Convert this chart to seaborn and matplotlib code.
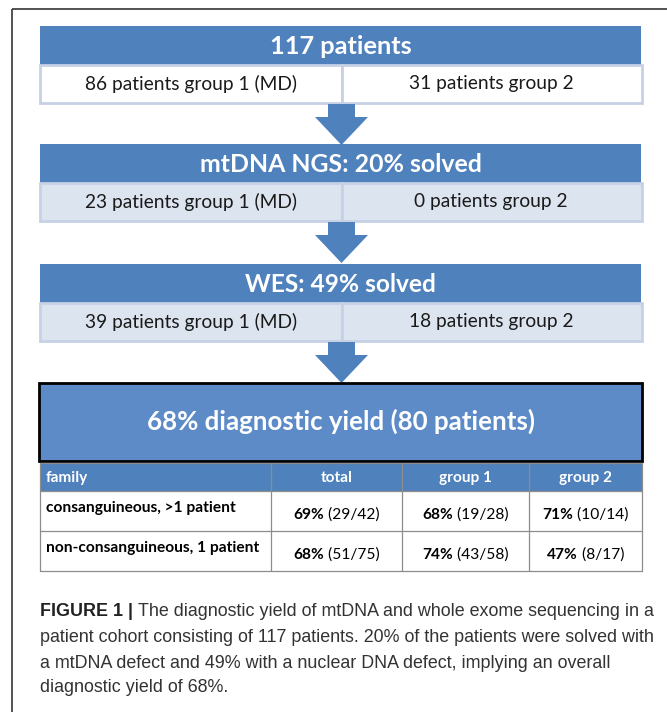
import numpy as np
import pandas as pd
import matplotlib
matplotlib.use("Agg")
import matplotlib.pyplot as plt
import seaborn as sns
from matplotlib.patches import Rectangle, Polygon

# flow steps
steps = ["117 patients", "mtDNA NGS: 20% solved", "WES: 49% solved"]
group1_counts = [86, 23, 39]
group2_counts = [31, 0, 18]
summary = "68% diagnostic yield (80 patients)"

# table
table_cols = ["family", "total", "group 1", "group 2"]
families = ["consanguineous, >1 patient", "non-consanguineous, 1 patient"]
solved = [[29, 19, 10], [51, 43, 8]]
totals = [[42, 28, 14], [75, 58, 17]]

caption_lines = [
    "The diagnostic yield of mtDNA and whole exome sequencing in a",
    "patient cohort consisting of 117 patients. 20% of the patients were solved with",
    "a mtDNA defect and 49% with a nuclear DNA defect, implying an overall",
    "diagnostic yield of 68%.",
]

BLUE = "#4F81BD"
BIG = "#5C8BC7"
PALE = "#DCE4F0"
EDGE = "#C6D1E6"
FLOW_FONT = "Lato"
CAP_FONT = "Liberation Sans"

sns.set_theme(style="white")
plt.rcParams["font.family"] = [FLOW_FONT, "DejaVu Sans"]

fig = plt.figure(figsize=(6.67, 7.12), dpi=100)
ax = fig.add_axes([0, 0, 1, 1])
ax.set_xlim(0, 667)
ax.set_ylim(712, 0)
ax.axis("off")
fig.canvas.draw()
renderer = fig.canvas.get_renderer()


def fit(x, y, s, width, **kw):
    t = ax.text(x, y, s, fontsize=10, **kw)
    bb = t.get_window_extent(renderer)
    t.set_fontsize(10 * width / bb.width)
    return t


def text_w(t):
    return t.get_window_extent(renderer).width


# frame
ax.plot([12, 667], [9, 9], color="#444444", lw=1.3, solid_capstyle="butt")
ax.plot([12, 12], [9, 712], color="#444444", lw=1.3, solid_capstyle="butt")

# flow boxes
tops = [26, 144, 264]
head_w = [142, 283, 192]
for i, top in enumerate(tops):
    ax.add_patch(Rectangle((40, top), 601, 39, facecolor=BLUE, edgecolor="none"))
    fit(340.5, top + 20, steps[i], head_w[i], color="white", ha="center",
        va="center", fontweight="bold")
    fill = "white" if i == 0 else PALE
    ax.add_patch(Rectangle((40, top + 39), 302, 38, facecolor=fill,
                           edgecolor=EDGE, lw=2))
    ax.add_patch(Rectangle((342, top + 39), 300, 38, facecolor=fill,
                           edgecolor=EDGE, lw=2))
    s1 = f"{group1_counts[i]} patients group 1 (MD)"
    s2 = f"{group2_counts[i]} patients group 2"
    t1 = fit(191, top + 58, s1, 213, color="#1a1a1a", ha="center", va="center")
    t2 = ax.text(491, top + 58, s2, fontsize=t1.get_fontsize(), color="#1a1a1a",
                 ha="center", va="center")
    # arrow below
    a0 = top + 78
    ax.add_patch(Polygon([(328, a0), (355, a0), (355, a0 + 13), (368, a0 + 13),
                          (341.5, a0 + 41), (315, a0 + 13), (328, a0 + 13)],
                         closed=True, facecolor=BLUE, edgecolor="none"))

# summary box
ax.add_patch(Rectangle((39, 383), 603, 78, facecolor=BIG, edgecolor="black", lw=2))
fit(341, 421, summary, 387, color="white", ha="center", va="center",
    fontweight="bold")

# table
xs = [40, 271, 402, 529, 642]
ys = [463, 491, 531, 571]
ax.add_patch(Rectangle((40, ys[0]), 602, ys[1] - ys[0], facecolor=BLUE,
                       edgecolor="none"))
for y in ys:
    ax.plot([40, 642], [y, y], color="#8c8c8c", lw=0.9)
for x in xs:
    ax.plot([x, x], [ys[0], ys[-1]], color="#8c8c8c", lw=0.9)

hdr = fit(46, 478, table_cols[0], 42, color="white", ha="left", va="center",
          fontweight="bold")
hsize = hdr.get_fontsize()
for j in range(1, 4):
    ax.text((xs[j] + xs[j + 1]) / 2, 478, table_cols[j], fontsize=hsize,
            color="white", ha="center", va="center", fontweight="bold")

lab_size = None
for r, fam in enumerate(families):
    ytop = ys[r + 1]
    if lab_size is None:
        t = fit(46, ytop + 17, fam, 190, color="black", ha="left", va="center",
                fontweight="bold")
        lab_size = t.get_fontsize()
    else:
        ax.text(46, ytop + 17, fam, fontsize=lab_size, color="black", ha="left",
                va="center", fontweight="bold")
    for j in range(3):
        pct = round(100 * solved[r][j] / totals[r][j])
        cx = (xs[j + 1] + xs[j + 2]) / 2
        b = ax.text(0, ytop + 24, f"{pct}%", fontsize=lab_size, color="black",
                    ha="left", va="center", fontweight="bold")
        n = ax.text(0, ytop + 24, f" ({solved[r][j]}/{totals[r][j]})",
                    fontsize=lab_size, color="black", ha="left", va="center")
        wb, wn = text_w(b), text_w(n)
        start = cx - (wb + wn) / 2
        b.set_x(start)
        n.set_x(start + wb)

# caption
cap_y = [612, 638, 663, 688]
ref = fit(40, cap_y[1], caption_lines[1], 615, color="#333333", ha="left",
          va="center", family=CAP_FONT)
csize = ref.get_fontsize()
fb = ax.text(40, cap_y[0], "FIGURE 1 | ", fontsize=csize, color="#222222",
             ha="left", va="center", family=CAP_FONT, fontweight="bold")
ax.text(40 + text_w(fb), cap_y[0], caption_lines[0], fontsize=csize,
        color="#333333", ha="left", va="center", family=CAP_FONT)
for k in (2, 3):
    ax.text(40, cap_y[k], caption_lines[k], fontsize=csize, color="#333333",
            ha="left", va="center", family=CAP_FONT)

fig.savefig("out.png", dpi=100)
